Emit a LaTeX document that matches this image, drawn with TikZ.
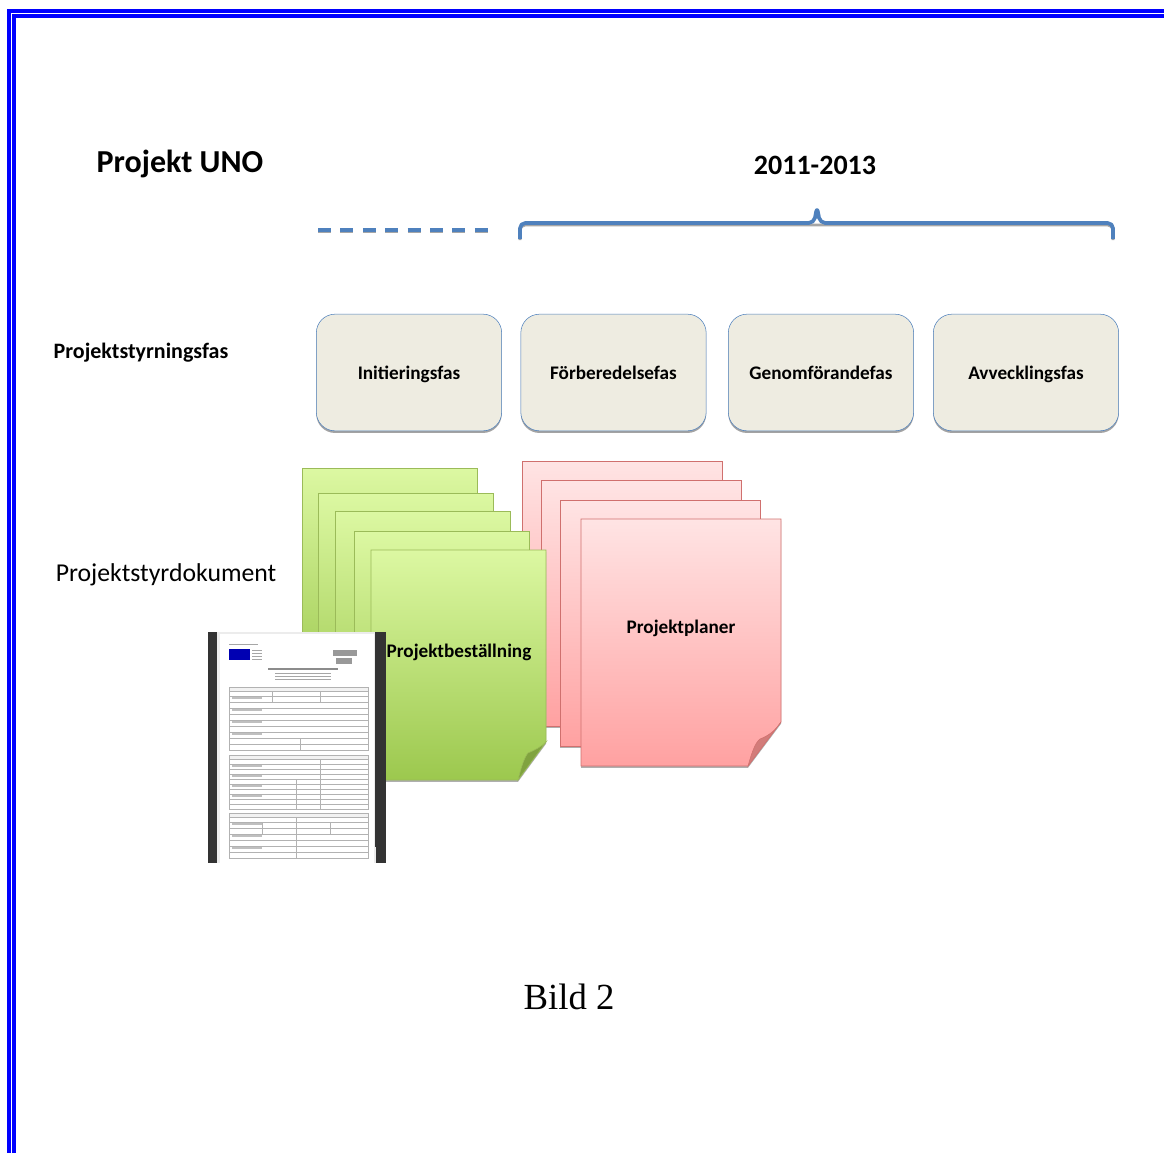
\documentclass[tikz,border=0pt]{standalone}
\usepackage{fontspec}
\setmainfont{Carlito}
\newfontfamily\bildfont{Liberation Serif}
\usepackage{tikz}
\usetikzlibrary{shadows}
\definecolor{ram}{HTML}{0000FF}
\definecolor{klammer}{HTML}{4F81BD}
\definecolor{fasfyll}{HTML}{EEECE1}
\definecolor{gtopp}{HTML}{DCF8A2}
\definecolor{gbotten}{HTML}{9CC84E}
\definecolor{glinje}{HTML}{9BBB59}
\definecolor{gvik}{HTML}{80A33F}
\definecolor{rtopp}{HTML}{FFE4E4}
\definecolor{rbotten}{HTML}{FFA1A1}
\definecolor{rlinje}{HTML}{D0706E}
\definecolor{rvik}{HTML}{D27C7A}
\newcommand{\stor}[1]{\fontsize{#1}{#1}\selectfont}

\begin{document}
\begin{tikzpicture}[x=0.75pt,y=-0.75pt,
    fas/.style={draw=klammer,fill=fasfyll,rounded corners=14pt,
      minimum width=139pt,minimum height=87.5pt,font=\bfseries\stor{14.4},
      text height=11pt,text depth=1pt,
      drop shadow={shadow xshift=0pt,shadow yshift=-1.6pt,fill=gray!80,opacity=.9}},
    gblad/.style={draw=glinje,top color=gtopp,bottom color=gbotten},
    rblad/.style={draw=rlinje,top color=rtopp,bottom color=rbotten},
    skugga/.style={drop shadow={shadow xshift=0pt,shadow yshift=-1.4pt,fill=gray!70,opacity=.9}},
    blankett/.style={draw=gray!60,line width=0.3pt}]
    \useasboundingbox (0,0) rectangle (1164,1153);
    % ram
    \draw[ram,line width=2.3pt] (9,1153) -- (9,11) -- (1164,11);
    \draw[ram,line width=2.3pt] (14,1153) -- (14,16) -- (1164,16);
    % rubriker
    \node[anchor=base,font=\bfseries\stor{24}] (T1) at (180,172) {Projekt UNO};
    \node[anchor=base,font=\bfseries\stor{21}] (T2) at (815,174) {2011-2013};
    % streckad linje och klammer
    \draw[gray!70,line width=2pt,dash pattern=on 9.75pt off 7.05pt] (318,232) -- (488,232);
    \draw[klammer,line width=2.6pt,dash pattern=on 9.75pt off 7.05pt] (318,230) -- (488,230);
    \draw[gray!70,line width=2pt,rounded corners=4pt] (520,240) -- (520,225) -- (1113,225) -- (1113,240);
    \draw[klammer,line width=2.8pt,rounded corners=4pt,line join=round] (520,239) -- (520,223) -- (814,223) -- (817,207) -- (820,223) -- (1113,223) -- (1113,239);
    % faser
    \node[anchor=base,font=\bfseries\stor{16.5}] (L1) at (141,358) {Projektstyrningsfas};
    \node[fas] (F1) at (409,372.5) {Initieringsfas};
    \node[fas] (F2) at (613.5,372.5) {Förberedelsefas};
    \node[fas] (F3) at (821,372.5) {Genomförandefas};
    \node[fas] (F4) at (1026,372.5) {Avvecklingsfas};
    % dokument
    \node[anchor=base,font=\stor{19.3}] (L2) at (166,581) {Projektstyrdokument};
    \foreach \x/\y in {522/461,541/480,560/500}
      \draw[rblad,skugga] (\x,\y) rectangle ++(200,246);
    \draw[rblad,skugga] (581,519) -- (781,519) -- (781,722) -- (748,766) -- (581,766) -- cycle;
    \filldraw[fill=rvik,draw=rlinje] (748,766) .. controls (752,752) and (755,743) .. (760,739)
      .. controls (768,736) and (775,731) .. (781,722) -- cycle;
    \node[anchor=base,font=\bfseries\stor{14.4}] (P2) at (681,633) {Projektplaner};
    \foreach \x/\y in {302/468,318/493,335/511,354/531}
      \draw[gblad] (\x,\y) rectangle ++(175,230);
    \draw[gblad,skugga] (371,550) -- (546,550) -- (546,742) -- (518,780) -- (371,780) -- cycle;
    \filldraw[fill=gvik,draw=glinje] (518,780) .. controls (521,768) and (524,758) .. (528,753)
      .. controls (535,750) and (541,747) .. (546,742) -- cycle;
    \node[anchor=base,font=\bfseries\stor{14.4}] (P1) at (459,657) {Projektbeställning};
    % inskannad blankett
    \fill[black!80] (208,632) rectangle (386,863);
    \fill[gray!15] (217,632) rectangle (376,863);
    \fill[white] (220,634) rectangle (374,863);
    \fill[black!80] (375,632) rectangle (386,847);
    \fill[blue!70!black] (229,649) rectangle (250,660);
    \foreach \y in {650,653,656,659} \draw[gray!70,line width=0.6pt] (252,\y) -- (262,\y);
    \draw[gray!70,line width=0.6pt] (229,644) -- (258,644);
    \fill[gray!80] (333,650) rectangle (357,656);
    \fill[gray!80] (336,658) rectangle (352,664);
    \draw[gray!90,line width=1pt] (268,669) -- (338,669);
    \foreach \y in {673,676,679} \draw[gray!70,line width=0.5pt] (275,\y) -- (331,\y);
    \foreach \a/\b in {687/750,755/809,813/858} {
      \draw[blankett,fill=gray!10] (229,\a) rectangle (368,\a+4);
      \draw[blankett] (229,\a) rectangle (368,\b);
    }
    \foreach \y in {696,702,708,714,720,726,732,738,744}
      \draw[blankett] (229,\y) -- (368,\y);
    \draw[blankett] (272,692) -- (272,702) (320,692) -- (320,702) (300,738) -- (300,750);
    \foreach \y in {764,769,774,779,784,789,794,799,804}
      \draw[blankett] (229,\y) -- (368,\y);
    \draw[blankett] (320,759) -- (320,809) (296,779) -- (296,809);
    \foreach \y in {822,828,834,840,846,852}
      \draw[blankett] (229,\y) -- (368,\y);
    \draw[blankett] (296,817) -- (296,858) (262,822) -- (262,834) (330,822) -- (330,834);
    \foreach \y in {700,712,724,736,768,778,788,798,826,838,850}
      \draw[gray!50,line width=0.8pt] (232,\y-2) -- (262,\y-2);
    % bildtext
    \node[anchor=base,font=\bildfont\stor{27.6}] (B1) at (569,1009) {Bild 2};
\end{tikzpicture}
\end{document}
